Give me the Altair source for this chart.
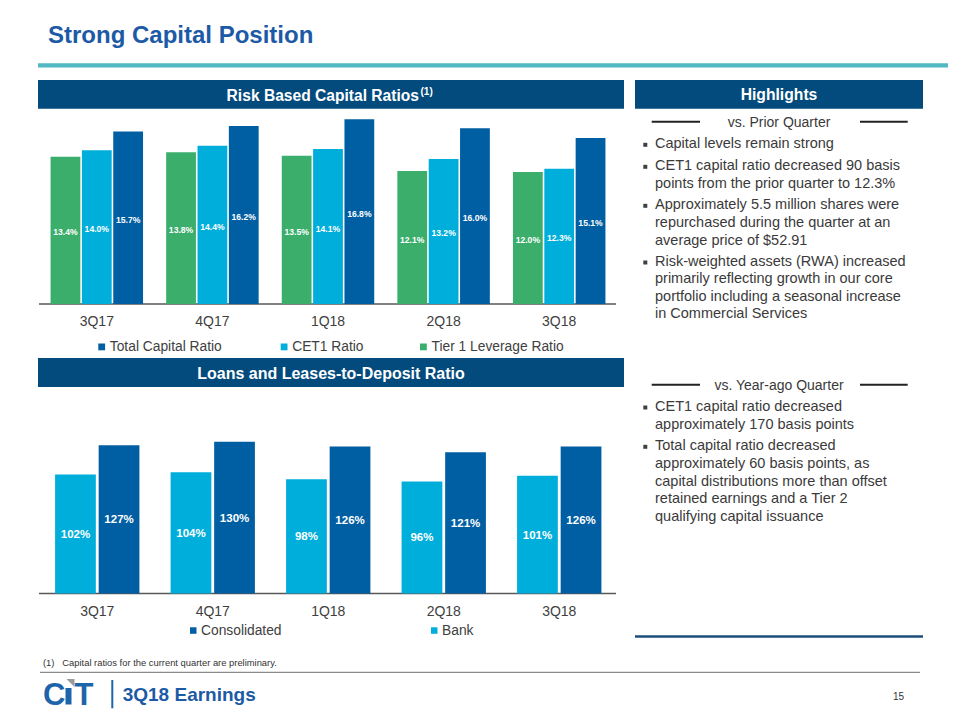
import altair as alt
import pandas as pd

# ---------------- data ----------------
quarters = ["3Q17", "4Q17", "1Q18", "2Q18", "3Q18"]
tier1_leverage = [13.4, 13.8, 13.5, 12.1, 12.0]
cet1_ratio = [14.0, 14.4, 14.1, 13.2, 12.3]
total_capital = [15.7, 16.2, 16.8, 16.0, 15.1]

bank_ratio = [102, 104, 98, 96, 101]
consolidated_ratio = [127, 130, 126, 121, 126]

top_series = ["Tier 1 Leverage Ratio", "CET1 Ratio", "Total Capital Ratio"]
top_legend_order = ["Total Capital Ratio", "CET1 Ratio", "Tier 1 Leverage Ratio"]
bot_series = ["Bank", "Consolidated"]
bot_legend_order = ["Consolidated", "Bank"]

prior_q_bullets = [
    ["Capital levels remain strong"],
    ["CET1 capital ratio decreased 90 basis", "points from the prior quarter to 12.3%"],
    ["Approximately 5.5 million shares were", "repurchased during the quarter at an",
     "average price of $52.91"],
    ["Risk-weighted assets (RWA) increased", "primarily reflecting growth in our core",
     "portfolio including a seasonal increase", "in Commercial Services"],
]
year_q_bullets = [
    ["CET1 capital ratio decreased", "approximately 170 basis points"],
    ["Total capital ratio decreased", "approximately 60 basis points, as",
     "capital distributions more than offset", "retained earnings and a Tier 2",
     "qualifying capital issuance"],
]

# ---------------- style ----------------
FONT = "Liberation Sans, Arial, sans-serif"
GREEN = "#3BAE6C"
CYAN = "#00AEDB"
NAVY = "#005EA2"
BAND = "#034B7D"
TITLE = "#1D5AA6"
TEAL = "#52B8C1"
GREY_TXT = "#3a3a3a"
LOGO = "#1E64AA"
top_colors = {"Tier 1 Leverage Ratio": GREEN, "CET1 Ratio": CYAN, "Total Capital Ratio": NAVY}
bot_colors = {"Bank": CYAN, "Consolidated": NAVY}

OX, OY = 8, 8


def px(x):
    return x - OX


def py(y):
    return y - OY


ONE = alt.Data(values=[{"k": 1}])


def rect(x1, y1, x2, y2, color):
    return alt.Chart(ONE).mark_rect(color=color).encode(
        x=alt.value(px(x1)), x2=alt.value(px(x2)), y=alt.value(py(y1)), y2=alt.value(py(y2)))


def hline(x1, x2, y, color, width):
    return alt.Chart(ONE).mark_rule(color=color, strokeWidth=width).encode(
        x=alt.value(px(x1)), x2=alt.value(px(x2)), y=alt.value(py(y)))


def vline(x, y1, y2, color, width):
    return alt.Chart(ONE).mark_rule(color=color, strokeWidth=width).encode(
        x=alt.value(px(x)), y=alt.value(py(y1)), y2=alt.value(py(y2)))


def text(x, y, s, size, color, weight="normal", align="left", baseline="middle"):
    return alt.Chart(ONE).mark_text(
        fontSize=size, color=color, fontWeight=weight, align=align,
        baseline=baseline, font=FONT).encode(
        x=alt.value(px(x)), y=alt.value(py(y)), text=alt.value(s))


# ---------------- top chart ----------------
rows = []
for s, vals in zip(top_series, [tier1_leverage, cet1_ratio, total_capital]):
    for q, v in zip(quarters, vals):
        rows.append({"quarter": q, "series": s, "value": v})
df_top = pd.DataFrame(rows)

TOP_ZERO, TOP_K = 304, 10.99
xs_top = alt.Scale(domain=quarters, range=[px(39), px(617)], paddingInner=0.2, paddingOuter=0.1)
xo_top = alt.Scale(domain=top_series, paddingInner=0.05)
ys_top = alt.Scale(domain=[0, 17], range=[py(TOP_ZERO), py(TOP_ZERO - 17 * TOP_K)], nice=False)
col_top = alt.Scale(domain=top_series, range=[top_colors[s] for s in top_series])

top_bars = alt.Chart(df_top).mark_bar().encode(
    x=alt.X("quarter:N", scale=xs_top, axis=None),
    xOffset=alt.XOffset("series:N", scale=xo_top),
    y=alt.Y("value:Q", scale=ys_top, axis=None),
    color=alt.Color("series:N", scale=col_top, legend=None),
)
top_labels = alt.Chart(df_top).transform_calculate(
    half="datum.value / 2", lab="format(datum.value, '.1f') + '%'"
).mark_text(color="white", fontWeight="bold", fontSize=8.6, dy=2, font=FONT).encode(
    x=alt.X("quarter:N", scale=xs_top, axis=None),
    xOffset=alt.XOffset("series:N", scale=xo_top),
    y=alt.Y("half:Q", scale=ys_top, axis=None),
    text="lab:N",
)
top_cats = alt.Chart(pd.DataFrame({"quarter": quarters})).mark_text(
    fontSize=14, color="#404040", font=FONT).encode(
    x=alt.X("quarter:N", scale=xs_top, axis=None),
    y=alt.value(py(322)),
    text="quarter:N",
)
top_chart = alt.layer(top_bars, top_labels, top_cats)

# ---------------- bottom chart ----------------
rows = []
for s, vals in zip(bot_series, [bank_ratio, consolidated_ratio]):
    for q, v in zip(quarters, vals):
        rows.append({"quarter": q, "series": s, "value": v})
df_bot = pd.DataFrame(rows)

BOT_ZERO, BOT_K = 593.5, 1.167
xs_bot = alt.Scale(domain=quarters, range=[px(39.5), px(617)], paddingInner=0.27, paddingOuter=0.135)
xo_bot = alt.Scale(domain=bot_series, paddingInner=0.065)
ys_bot = alt.Scale(domain=[0, 140], range=[py(BOT_ZERO), py(BOT_ZERO - 140 * BOT_K)], nice=False)
col_bot = alt.Scale(domain=bot_series, range=[bot_colors[s] for s in bot_series])

bot_bars = alt.Chart(df_bot).mark_bar().encode(
    x=alt.X("quarter:N", scale=xs_bot, axis=None),
    xOffset=alt.XOffset("series:N", scale=xo_bot),
    y=alt.Y("value:Q", scale=ys_bot, axis=None),
    color=alt.Color("series:N", scale=col_bot, legend=None),
)
bot_labels = alt.Chart(df_bot).transform_calculate(
    half="datum.value / 2", lab="format(datum.value, '.0f') + '%'"
).mark_text(color="white", fontWeight="bold", fontSize=11.5, dy=1, font=FONT).encode(
    x=alt.X("quarter:N", scale=xs_bot, axis=None),
    xOffset=alt.XOffset("series:N", scale=xo_bot),
    y=alt.Y("half:Q", scale=ys_bot, axis=None),
    text="lab:N",
)
bot_cats = alt.Chart(pd.DataFrame({"quarter": quarters})).mark_text(
    fontSize=14, color="#404040", font=FONT).encode(
    x=alt.X("quarter:N", scale=xs_bot, axis=None),
    y=alt.value(py(611.5)),
    text="quarter:N",
)
bot_chart = alt.layer(bot_bars, bot_labels, bot_cats)

# ---------------- decorations ----------------
deco = []
# title + teal rule
deco.append(text(48, 43.3, "Strong Capital Position", 24, TITLE, "bold", baseline="alphabetic"))
deco.append(rect(38, 63.3, 948, 67.5, TEAL))
# header bands
deco.append(rect(38, 80, 624, 108.7, BAND))
deco.append(text(419, 95.5, "Risk Based Capital Ratios", 15.6, "white", "bold", align="right"))
deco.append(text(420.5, 92, "(1)", 10, "white", "bold"))
deco.append(rect(635, 80, 923, 108.7, BAND))
deco.append(text(779, 95, "Highlights", 15.7, "white", "bold", align="center"))
deco.append(rect(38, 358, 624, 387, BAND))
deco.append(text(331, 373.5, "Loans and Leases-to-Deposit Ratio", 16, "white", "bold", align="center"))
# chart baselines
deco.append(hline(39, 616, TOP_ZERO, "#595959", 1.5))
deco.append(hline(39, 616, BOT_ZERO, "#595959", 1.5))

# legends (manual)
top_leg_pos = {"Total Capital Ratio": 98.3, "CET1 Ratio": 280.7, "Tier 1 Leverage Ratio": 420}
for name in top_legend_order:
    x0 = top_leg_pos[name]
    deco.append(rect(x0, 343.5, x0 + 6.8, 350.3, top_colors[name]))
    deco.append(text(x0 + 11.5, 347.2, name, 13.8, "#404040"))
bot_leg_pos = {"Consolidated": 190, "Bank": 431}
for name in bot_legend_order:
    x0 = bot_leg_pos[name]
    deco.append(rect(x0, 627.3, x0 + 6.5, 633.8, bot_colors[name]))
    deco.append(text(x0 + 11, 630.7, name, 13.8, "#404040"))


# highlights section
def section(y_head, label, bullets, y_lines):
    out = [hline(651.7, 700, y_head - 1.3, "#222222", 2),
           hline(860, 907.7, y_head - 1.3, "#222222", 2),
           text(779, y_head, label, 14, GREY_TXT, align="center")]
    i = 0
    for para in bullets:
        y_first = y_lines[i]
        out.append(rect(643.3, y_first - 1.2, 647.3, y_first + 2.8, "#404040"))
        for line in para:
            out.append(text(655, y_lines[i], line, 14.5, GREY_TXT))
            i += 1
    return out


prior_y = [144, 166, 183.5, 205, 223.2, 240.7, 261.7, 279.3, 296.8, 314.3]
year_y = [406.7, 424.8, 446, 463.8, 481.6, 499.3, 517]
deco += section(123, "vs. Prior Quarter", prior_q_bullets, prior_y)
deco += section(386, "vs. Year-ago Quarter", year_q_bullets, year_y)
deco.append(hline(635, 923, 636.5, "#1B4F7A", 2.5))

# footer
deco.append(text(43, 662.5, "(1)", 9.4, "#333333"))
deco.append(text(62.3, 662.5, "Capital ratios for the current quarter are preliminary.", 9.4, "#333333"))
deco.append(hline(40, 920, 672.3, "#8a8a8a", 1.3))
# logo: C + i stem with grey wedge + T
deco.append(text(43, 704.5, "C", 31, LOGO, "bold", baseline="alphabetic"))
deco.append(rect(65.5, 688, 71.5, 704.5, LOGO))
deco.append(alt.Chart(ONE).mark_point(
    shape="M -1 -1 L 1 -1 L 1 1 Z", filled=True, opacity=1, color="#9a9a9a", size=64,
    strokeWidth=0).encode(x=alt.value(px(70.5)), y=alt.value(py(683))))
deco.append(text(74.5, 704.5, "T", 31, LOGO, "bold", baseline="alphabetic"))
deco.append(vline(112.3, 680, 708.3, LOGO, 2))
deco.append(text(122.7, 701.2, "3Q18 Earnings", 19, TITLE, "bold", baseline="alphabetic"))
deco.append(text(898.5, 697.3, "15", 10, "#333333", align="center"))

chart = alt.layer(*deco, top_chart, bot_chart).resolve_scale(
    x="independent", y="independent", xOffset="independent", color="independent"
).properties(
    width=944, height=704,
    autosize=alt.AutoSizeParams(type="none"),
    padding=0,
    background="white",
).configure_view(stroke=None)

chart.save("out.html", embed_options={"renderer": "svg", "actions": False})
